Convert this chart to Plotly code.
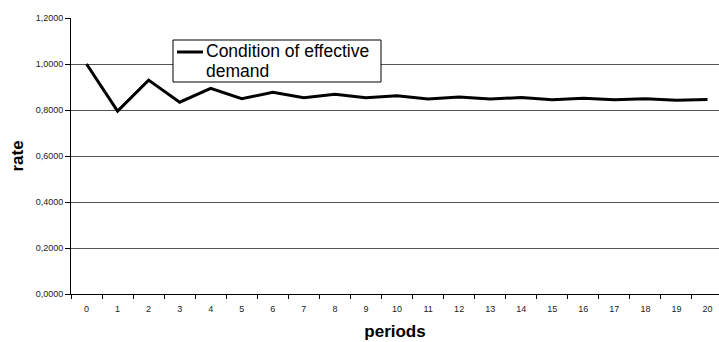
import plotly.graph_objects as go

# Series data
periods = [str(i) for i in range(21)]
effective_demand = [1.000, 0.795, 0.930, 0.834, 0.894, 0.849, 0.877, 0.853, 0.868, 0.853,
                    0.862, 0.848, 0.857, 0.848, 0.854, 0.845, 0.851, 0.845, 0.849, 0.842, 0.846]
series_name = "Condition of effective demand"

# Y axis ticks (comma decimal separator)
y_tick_values = [0.0, 0.2, 0.4, 0.6, 0.8, 1.0, 1.2]
y_tick_labels = ["0,0000", "0,2000", "0,4000", "0,6000", "0,8000", "1,0000", "1,2000"]

W, H = 719, 342
ML, MR, MT, MB = 71, 0, 18, 48
PW, PH = W - ML - MR, H - MT - MB


def px_x(x):
    return (x - ML) / PW


def px_y(y):
    return (H - MB - y) / PH


fig = go.Figure()
fig.add_trace(go.Scatter(
    x=periods, y=effective_demand, mode="lines", name=series_name,
    line=dict(color="black", width=3), showlegend=False,
))

font = "Arial, Liberation Sans, sans-serif"

fig.update_layout(
    width=W, height=H,
    margin=dict(l=ML, r=MR, t=MT, b=MB, pad=0),
    paper_bgcolor="white", plot_bgcolor="white",
    font=dict(family=font, color="black"),
    xaxis=dict(
        type="category", range=[-0.5, 20.37],
        tickson="boundaries", ticks="outside", ticklen=4, tickwidth=1, tickcolor="black",
        showline=True, linecolor="black", linewidth=1,
        showgrid=False, zeroline=False,
        tickfont=dict(size=9, color="#222"), ticklabelstandoff=6,
        title=dict(text="<b>periods</b>", font=dict(size=17), standoff=12),
    ),
    yaxis=dict(
        range=[0, 1.2], tickvals=y_tick_values, ticktext=y_tick_labels,
        ticks="outside", ticklen=5, tickwidth=1, tickcolor="black",
        showline=True, linecolor="black", linewidth=1,
        showgrid=True, gridcolor="#555", gridwidth=1, zeroline=False,
        tickfont=dict(size=9, color="#222"),
        title=dict(text="<b>rate</b>", font=dict(size=17), standoff=7),
    ),
)

# Legend box with sample line and two-line label
fig.add_shape(type="rect", xref="paper", yref="paper",
              x0=px_x(173), x1=px_x(381), y0=px_y(82), y1=px_y(40),
              line=dict(color="black", width=1), fillcolor="white", layer="above")
fig.add_shape(type="line", xref="paper", yref="paper",
              x0=px_x(177), x1=px_x(203), y0=px_y(52), y1=px_y(52),
              line=dict(color="black", width=3), layer="above")
for text, yc in [("Condition of effective", 51.5), ("demand", 71)]:
    fig.add_annotation(text=text, xref="paper", yref="paper",
                       x=px_x(204), y=px_y(yc), xanchor="left", yanchor="middle",
                       showarrow=False, font=dict(size=17.5, color="black"))

fig.write_html("out.html")
